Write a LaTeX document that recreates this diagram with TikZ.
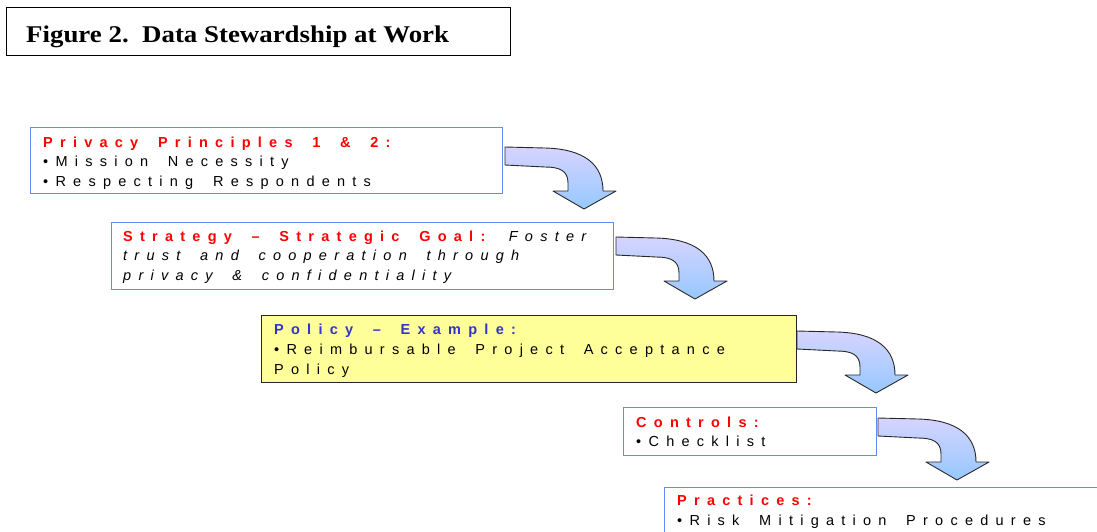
\documentclass[tikz,border=0pt]{standalone}
\usepackage{fontspec}
\setmainfont{Liberation Serif}
\newfontfamily\boxfont[LetterSpace=50,WordSpace=1.75]{Liberation Sans}
\usepackage{graphicx}
\definecolor{bordblue}{RGB}{102,136,255}
\definecolor{hdred}{RGB}{255,0,0}
\definecolor{polblue}{RGB}{51,51,204}
\definecolor{yel}{RGB}{255,255,153}
\definecolor{arrtop}{RGB}{214,212,255}
\definecolor{arrbot}{RGB}{150,200,255}
\definecolor{arredge}{RGB}{40,40,40}
\begin{document}
\begin{tikzpicture}[x=1pt,y=-1pt,
  stepbox/.style={draw=bordblue,line width=1pt,fill=white,anchor=north west,inner sep=0pt},
  polbox/.style={stepbox,draw=black!85,fill=yel},
  txt/.style={anchor=base west,inner sep=0pt,font=\boxfont\fontsize{14.5}{20}\selectfont},
  hd/.style={txt,text=hdred,font=\boxfont\bfseries\fontsize{14.5}{20}\selectfont},
  arrowshape/.style={draw=arredge,line width=0.9pt,top color=arrtop,bottom color=arrbot,line join=round},
  curvarrow/.pic={\path[arrowshape] (0,0) -- (40,1) .. controls (80,2) and (98,18) .. (98,44) -- (111,44) -- (79,62) -- (48,44) -- (63,44) -- (63,36) .. controls (63,24) and (55,20) .. (40,20) -- (0,18) -- cycle;}
]
\useasboundingbox (0,0) rectangle (1097,531);
\clip (0,0) rectangle (1097,531);

% title
\node[draw,line width=1.3pt,anchor=north west,inner sep=0pt,minimum width=504pt,minimum height=48pt] (title) at (6,7) {};
\node[anchor=base west,inner sep=0pt,font=\bfseries\fontsize{24}{28}\selectfont] (titletext) at (26,42) {\scalebox{1.12}[1]{Figure 2.\ \ Data Stewardship at Work}};

% boxes
\node[stepbox,minimum width=472pt,minimum height=66pt] (b1) at (30,127) {};
\node[stepbox,minimum width=502pt,minimum height=67pt] (b2) at (111,222) {};
\node[polbox,minimum width=535pt,minimum height=67pt] (b3) at (261,315) {};
\node[stepbox,minimum width=253pt,minimum height=48pt] (b4) at (623,407) {};
\node[stepbox,minimum width=460pt,minimum height=70pt] (b5) at (664,487) {};

% arrows
\pic at ([shift={(2,20)}]b1.north east) {curvarrow};
\pic at ([shift={(2,15)}]b2.north east) {curvarrow};
\pic at ([shift={(0,16)}]b3.north east) {curvarrow};
\pic at ([shift={(1,11)}]b4.north east) {curvarrow};

% texts box 1
\node[hd] (t1a) at (43,147) {Privacy Principles 1 \& 2:};
\node[txt] (t1b) at (43,166) {•Mission Necessity};
\node[txt] (t1c) at (43,186) {•Respecting Respondents};

% box 2
\node[txt] (t2a) at (123,241) {{\bfseries\color{hdred}Strategy – Strategic Goal:} {\itshape Foster}};
\node[txt,font=\boxfont\itshape\fontsize{14.5}{20}\selectfont] (t2b) at (123,260) {trust and cooperation through};
\node[txt,font=\boxfont\itshape\fontsize{14.5}{20}\selectfont] (t2c) at (123,280) {privacy \& confidentiality};

% box 3
\node[hd,text=polblue] (t3a) at (274,334) {Policy – Example:};
\node[txt] (t3b) at (274,354) {•Reimbursable Project Acceptance};
\node[txt] (t3c) at (274,374) {Policy};

% box 4
\node[hd] (t4a) at (636,427) {Controls:};
\node[txt] (t4b) at (636,446) {•Checklist};

% box 5
\node[hd] (t5a) at (677,505) {Practices:};
\node[txt] (t5b) at (677,525) {•Risk Mitigation Procedures};
\end{tikzpicture}
\end{document}
